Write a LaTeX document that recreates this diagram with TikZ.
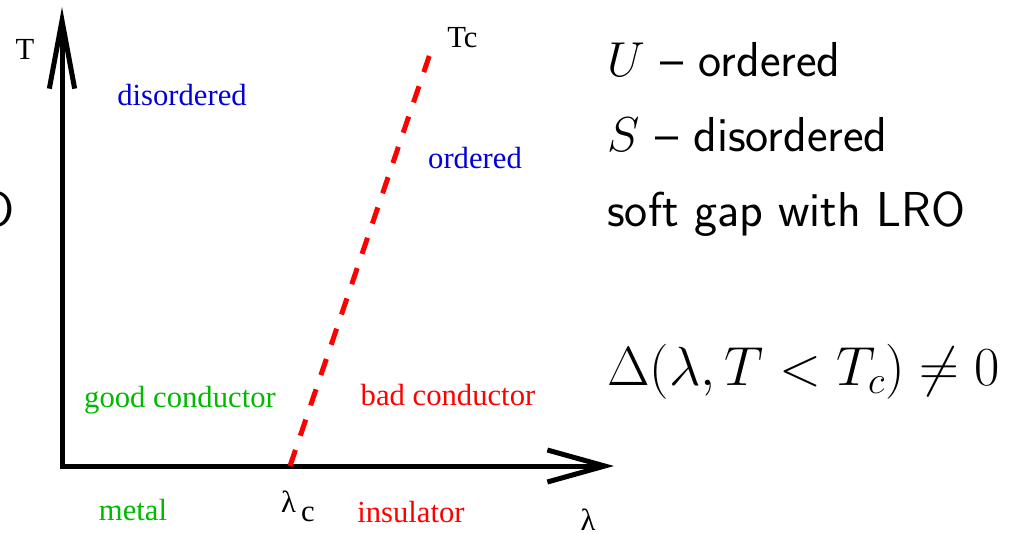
\documentclass[tikz,border=0pt]{standalone}
\usepackage{fix-cm}
\usepackage{fontspec}
\newfontfamily\tms{Liberation Serif}
\usetikzlibrary{arrows.meta}
\definecolor{phblue}{RGB}{0,0,215}
\definecolor{phgreen}{RGB}{0,185,0}

\begin{document}
\begin{tikzpicture}[x=0.75pt,y=0.75pt,
  lbl/.style={inner sep=0pt,anchor=base,font=\tms\fontsize{23}{27}\selectfont},
  side/.style={inner sep=0pt,anchor=base west,font=\sffamily\fontsize{36.8}{42}\selectfont},
  axis/.style={line width=3.75pt}]
\useasboundingbox (0,0) rectangle (1019,533);

% axes
\coordinate (O) at (62,67);
\coordinate (Ttop) at (62,526);
\coordinate (Lend) at (614,67);
\draw[axis,-{Straight Barb[length=51pt,width=19pt]}] ([yshift=-1.875pt]O) -- (Ttop);
\draw[axis,-{Straight Barb[length=43pt,width=24pt]}] ([xshift=-1.875pt]O) -- (Lend);

% critical line
\coordinate (lc) at (290,67);
\coordinate (tc) at (433,488);
\draw[red,line width=3.75pt,dash pattern=on 12.75pt off 11.25pt] (lc) -- (tc);

% axis labels
\node[lbl] (tlab) at (25,473) {T};
\node[lbl,anchor=base west] (tclab) at (447,485) {Tc};
\node[lbl] (lam) at (588,3) {λ};
\node[lbl] (lamc) at (298,21) {λ\raisebox{-0.7ex}{\,c}};

% regions
\node[lbl,text=phblue] (dis) at (182,427) {disordered};
\node[lbl,text=phblue] (ord) at (475,365) {ordered};
\node[lbl,text=phgreen] (good) at (180,126) {good conductor};
\node[lbl,text=red] (bad) at (448,128) {bad conductor};
\node[lbl,text=phgreen] (metal) at (133,13) {metal};
\node[lbl,text=red] (ins) at (411,11) {insulator};

% right column
\node[side,anchor=base east] (cut) at (15,307) {O};
\node[side] (uord) at (607,456) {$U$ -- ordered};
\node[side] (sdis) at (607,382) {$S$ -- disordered};
\node[side] (gap) at (607,307) {soft gap with LRO};
\node[side,font=\fontsize{41.3}{48}\selectfont] (delta) at (607,148) {$\Delta(\lambda,T<T_c)\neq0$};

\end{tikzpicture}
\end{document}
